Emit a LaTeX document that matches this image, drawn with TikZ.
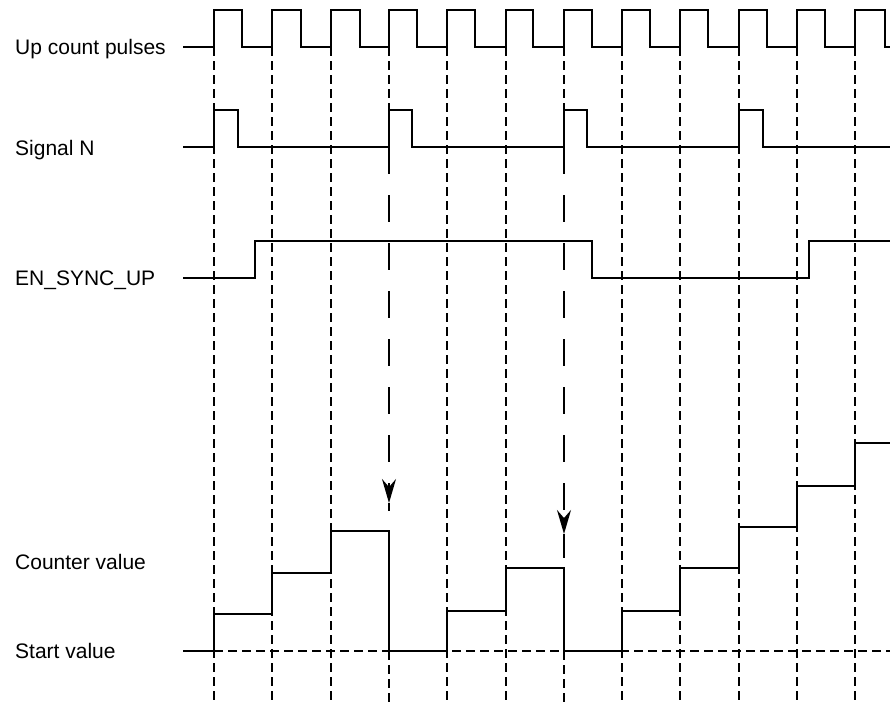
\documentclass[tikz,border=0pt]{standalone}
\usepackage{fontspec}
\setmainfont{Liberation Sans}
\usetikzlibrary{arrows.meta}

\begin{document}
\begin{tikzpicture}[x=1pt,y=-1pt,
  sig/.style={line width=2.9pt, line join=miter},
  grid/.style={line width=1.2pt, dash pattern=on 9pt off 5pt},
  sync/.style={line width=1.8pt, dash pattern=on 27pt off 21pt},
  tip/.style={-{Stealth[length=24pt, width=14pt, inset=8pt]}},
  lbl/.style={anchor=base west, inner sep=0pt, font=\fontsize{21}{25}\selectfont}]
\useasboundingbox (0,0) rectangle (890,702);

% time grid
\draw [grid] (214,47) -- (214,702) (272,47) -- (272,702) (331,47) -- (331,702);
\draw [grid] (389,47) -- (389,110) (389,651) -- (389,702);
\draw [grid] (447,47) -- (447,702) (506,47) -- (506,702);
\draw [grid] (564,47) -- (564,110) (564,651) -- (564,702);
\draw [grid] (622,47) -- (622,702) (680,47) -- (680,702) (739,47) -- (739,702);
\draw [grid] (797,47) -- (797,702) (855,47) -- (855,702);
\draw [grid] (214,651) -- (890,651);

% labels
\node [lbl] (up) at (15,54) {Up count pulses};
\node [lbl] (sn) at (15,155) {Signal N};
\node [lbl] (en) at (15,285) {EN\_SYNC\_UP};
\node [lbl] (cv) at (15,569) {Counter value};
\node [lbl] (sv) at (15,658) {Start value};

% up count pulses
\draw [sig] (183,47) -- (214,47) -- (214,10) -- (242,10) -- (242,47) -- (272,47) -- (272,10) -- (301,10) -- (301,47)
  -- (331,47) -- (331,10) -- (360,10) -- (360,47) -- (389,47) -- (389,10) -- (417,10) -- (417,47)
  -- (447,47) -- (447,10) -- (475,10) -- (475,47) -- (506,47) -- (506,10) -- (533,10) -- (533,47)
  -- (564,47) -- (564,10) -- (592,10) -- (592,47) -- (622,47) -- (622,10) -- (650,10) -- (650,47)
  -- (680,47) -- (680,10) -- (708,10) -- (708,47) -- (739,47) -- (739,10) -- (767,10) -- (767,47)
  -- (797,47) -- (797,10) -- (825,10) -- (825,47) -- (855,47) -- (855,10) -- (885,10) -- (885,47) -- (890,47);

% signal N
\draw [sig] (183,147) -- (214,147) -- (214,110) -- (238,110) -- (238,147) -- (389,147) -- (389,110) -- (412,110) -- (412,147)
  -- (564,147) -- (564,110) -- (587,110) -- (587,147) -- (739,147) -- (739,110) -- (763,110) -- (763,147) -- (890,147);

% EN_SYNC_UP
\draw [sig] (183,278) -- (255,278) -- (255,241) -- (592,241) -- (592,278) -- (809,278) -- (809,241) -- (890,241);

% counter value
\draw [sig] (183,651) -- (214,651) -- (214,614) -- (272,614) -- (272,573) -- (331,573) -- (331,531) -- (389,531)
  -- (389,651) -- (447,651) -- (447,611) -- (506,611) -- (506,568) -- (564,568) -- (564,651)
  -- (622,651) -- (622,611) -- (680,611) -- (680,568) -- (739,568) -- (739,527) -- (797,527)
  -- (797,486) -- (855,486) -- (855,443) -- (890,443);

% synchronisation
\coordinate (n2) at (389,147);
\coordinate (t2) at (389,503);
\coordinate (e2) at (389,511);
\coordinate (n3) at (564,147);
\coordinate (t3) at (564,534);
\coordinate (e3) at (564,558);
\draw [sync, tip] (n2) -- (t2);
\draw [line width=1.8pt] (t2) -- (e2);
\draw [sync, tip] (n3) -- (t3);
\draw [line width=1.8pt] (t3) -- (e3);

\end{tikzpicture}
\end{document}
